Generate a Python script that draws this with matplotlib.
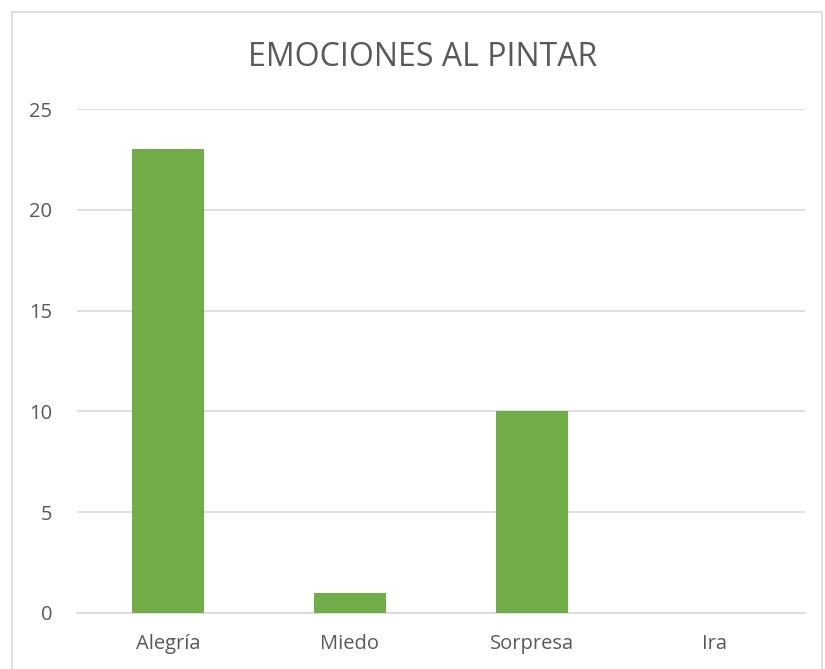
import matplotlib

matplotlib.use("Agg")
import matplotlib.pyplot as plt
from matplotlib.patches import Rectangle

# data
categories = ["Alegría", "Miedo", "Sorpresa", "Ira"]
values = [23, 1, 10, 0]
y_ticks = [0, 5, 10, 15, 20, 25]

TEXT = "#595959"
GRID = "#D9D9D9"
BAR = "#70AD47"

plt.rcParams["font.family"] = ["Open Sans", "DejaVu Sans"]

fig = plt.figure(figsize=(8.25, 6.69), dpi=100)
W, H = 825, 669
ax = fig.add_axes([77 / W, 1 - 613 / H, (805 - 77) / W, (613 - 109) / H])

x = range(len(categories))
ax.bar(x, values, width=0.4, color=BAR, zorder=3)
ax.set_xlim(-0.5, len(categories) - 0.5)
ax.set_ylim(0, 25)
ax.set_yticks(y_ticks)
ax.set_xticks(list(x))
ax.set_xticklabels(categories)
ax.grid(axis="y", color=GRID, linewidth=1.2, zorder=0)
for side in ["top", "right", "left"]:
    ax.spines[side].set_visible(False)
ax.spines["bottom"].set_color(GRID)
ax.spines["bottom"].set_linewidth(1.2)
ax.tick_params(axis="both", length=0, labelsize=14.5, colors=TEXT)
ax.tick_params(axis="y", pad=18)
ax.tick_params(axis="x", pad=15)

fig.text(423 / W, 1 - 57 / H, "EMOCIONES AL PINTAR", ha="center", va="center",
         fontsize=23, color=TEXT)

# outer chart border
fig.patches.append(Rectangle((12 / W, -0.01), (822 - 12) / W, 1 - 12 / H + 0.01,
                             transform=fig.transFigure, fill=False,
                             edgecolor=GRID, linewidth=1.2))

fig.savefig("out.png", dpi=100)
